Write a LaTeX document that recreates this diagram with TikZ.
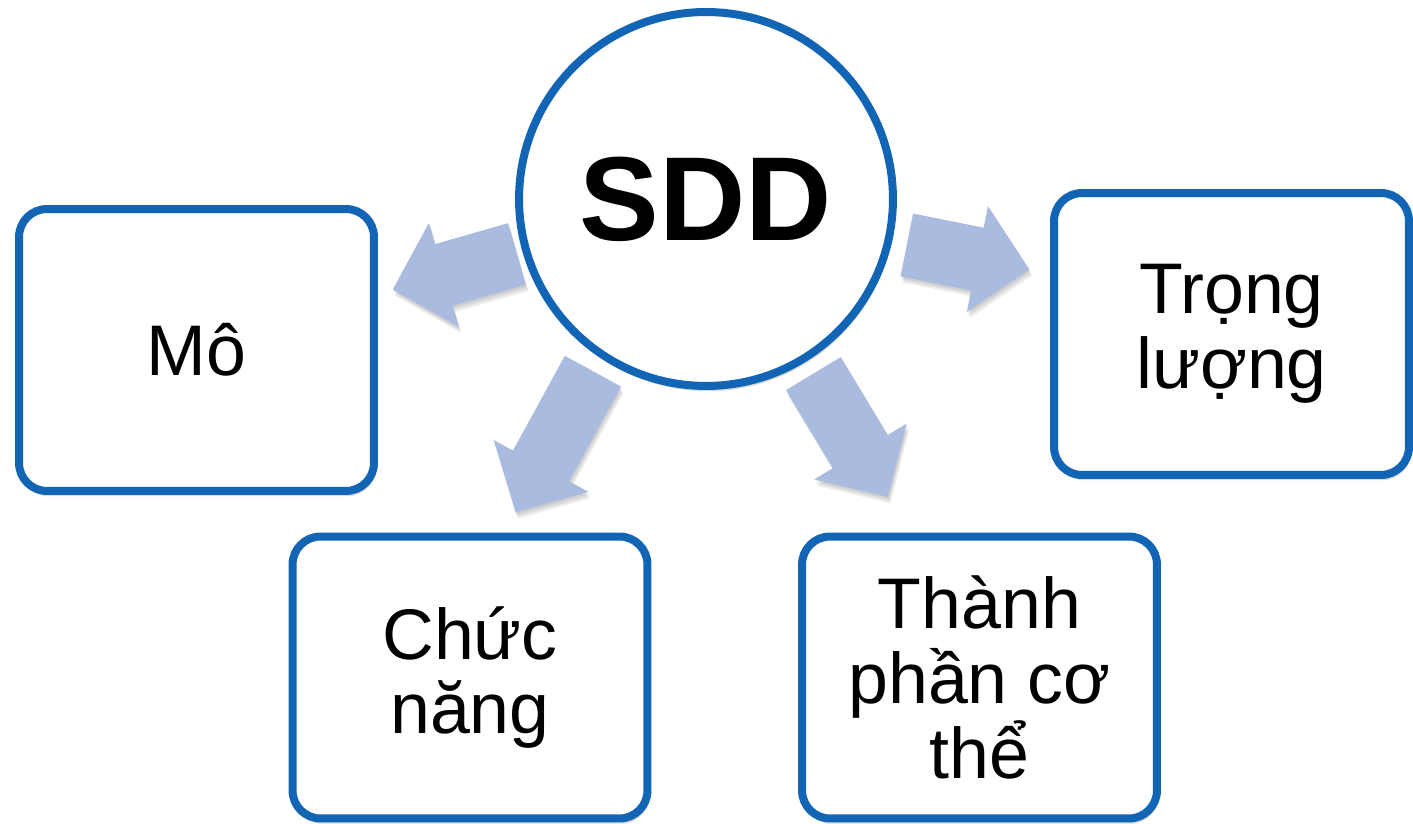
\documentclass[tikz,border=0pt]{standalone}
\usepackage{fontspec}
\setmainfont{Liberation Sans}
\usetikzlibrary{calc,shadows,backgrounds}
\definecolor{ringblue}{RGB}{18,101,180}
\definecolor{arrowblue}{RGB}{169,187,223}
\tikzset{
  topic/.style={rectangle, draw=ringblue, line width=0.16cm, rounded corners=0.56cm,
    fill=white, minimum width=7.1cm, minimum height=5.64cm, align=center,
    font=\fontsize{40.8}{42.5}\selectfont,
    drop shadow={shadow xshift=1pt, shadow yshift=-3pt, opacity=0.25, fill=black!60}},
  hub/.style={circle, draw=ringblue, line width=0.16cm, fill=white, minimum size=7.48cm,
    font=\fontsize{68}{70}\selectfont\bfseries,
    drop shadow={shadow xshift=1pt, shadow yshift=-3pt, opacity=0.25, fill=black!60}},
  arrowshade/.style={fill=black!70, opacity=0.1},
  arrowbody/.style={fill=arrowblue}
}
\begin{document}
\begin{tikzpicture}[x=0.02cm, y=0.02cm]
  \useasboundingbox (0,0) rectangle (1413,824);
  % nut giua
  \node[hub] (sdd) at (706,625) {SDD};
  % cac o xung quanh
  \node[topic] (mo) at (196.5,474) {Mô};
  \node[topic] (chuc) at (470,146.5) {Chức\\năng};
  \node[topic] (thanh) at (979.5,146.5) {Thành\\phần cơ\\thể};
  \node[topic] (trong) at (1231.5,490) {Trọng\\lượng};
  % goc cac mui ten
  \coordinate (aMo) at ($(sdd.center)+(196.2:197)$);
  \coordinate (aTrong) at ($(sdd.center)+(-12.9:206)$);
  \coordinate (aChuc) at ($(sdd.center)+(236.7:206)$);
  \coordinate (aThanh) at ($(sdd.center)+(-58.4:205)$);
  % mui ten to, nam duoi vong tron
  \begin{scope}[on background layer]
    \foreach \b/\a/\l in {aMo/196/129, aTrong/-11.3/125, aChuc/241.3/161, aThanh/-58.9/144}{
      \foreach \s in {1,2,3}
        \fill[arrowshade, shift={(\b)}, xshift=0.5*\s pt, yshift=-1.2*\s pt, rotate=\a]
          (0,32) -- (\l-53,32) -- (\l-53,54) -- (\l,0) -- (\l-53,-54) -- (\l-53,-32) -- (0,-32) -- cycle;
      \fill[arrowbody, shift={(\b)}, rotate=\a]
        (0,32) -- (\l-53,32) -- (\l-53,54) -- (\l,0) -- (\l-53,-54) -- (\l-53,-32) -- (0,-32) -- cycle;
    }
  \end{scope}
\end{tikzpicture}
\end{document}
